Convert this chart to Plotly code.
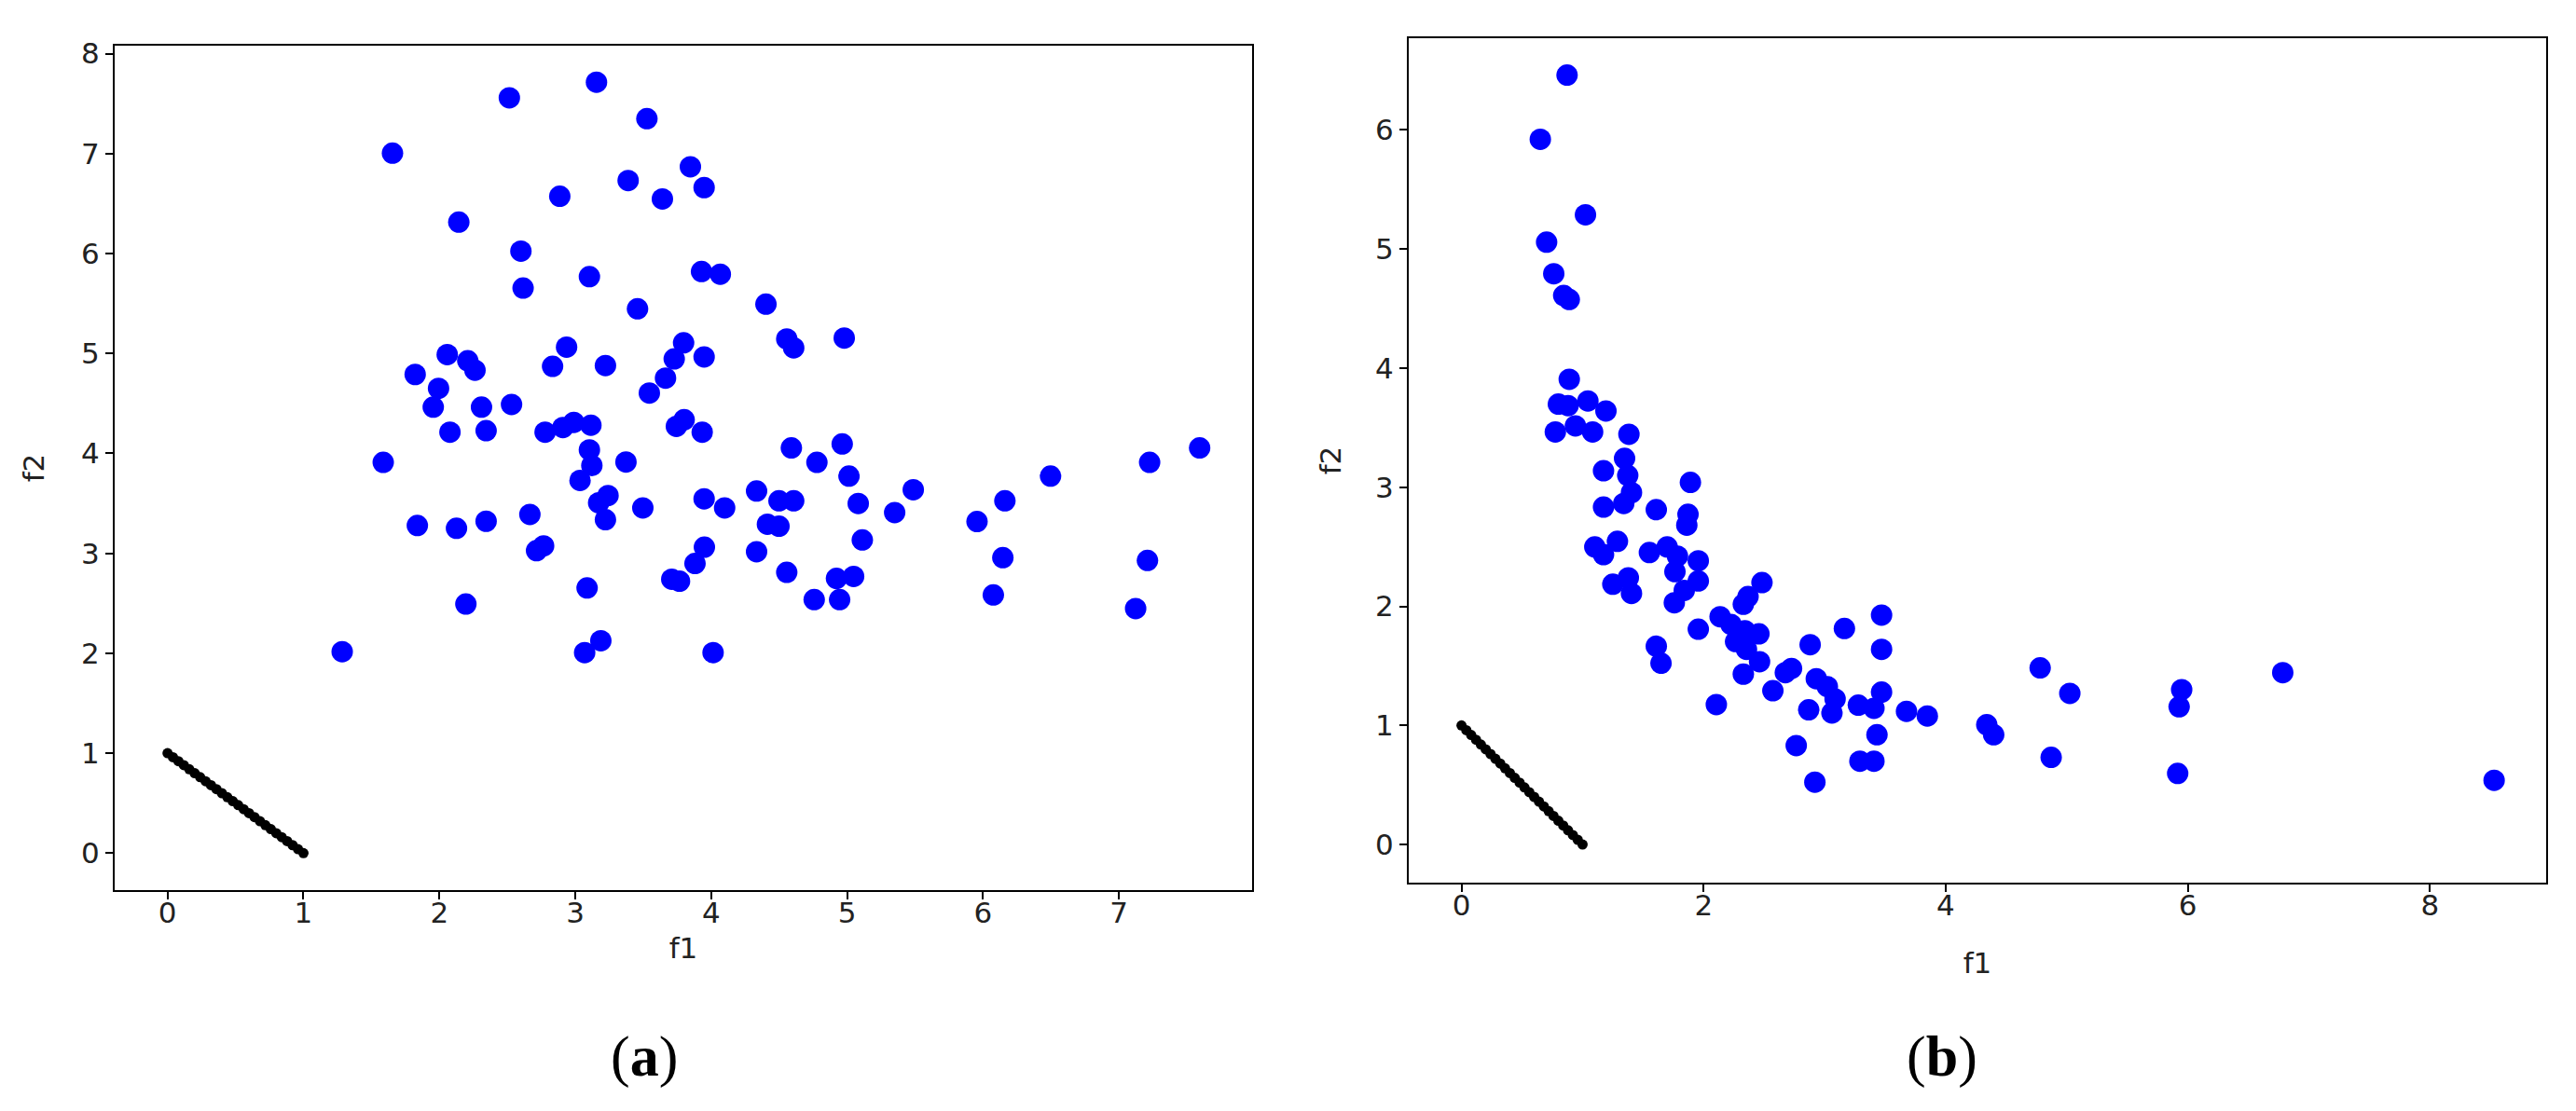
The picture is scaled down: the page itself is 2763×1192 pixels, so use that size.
import plotly.graph_objects as go

# panel (a): random initial population
a_f1 = [3.156, 2.515, 3.527, 1.655, 3.847, 3.389, 3.948, 3.641, 2.886, 2.143,
        2.600, 2.616, 3.104, 3.929, 4.067, 3.458, 4.403, 2.058, 2.209, 2.262,
        1.822, 1.994, 1.955, 2.310, 2.531, 2.078, 2.344, 2.936, 2.833, 3.222,
        3.797, 3.728, 3.664, 3.545, 3.948, 2.778, 2.909, 2.989, 3.115, 3.744,
        3.801, 3.934, 1.587, 3.104, 3.122, 3.035, 3.373, 3.241, 3.172, 3.222,
        3.497, 3.948, 4.099, 4.334, 4.414, 4.499, 4.334, 1.838, 2.126, 2.344,
        2.666, 2.715, 2.767, 3.950, 3.881, 3.710, 3.767, 3.087, 2.195, 1.285,
        3.069, 3.188, 4.014,
        4.556, 4.607, 4.979, 4.590, 4.964, 4.778, 5.014, 5.487, 6.497, 7.226,
        7.594, 4.499, 4.607, 5.082, 5.350, 6.161, 5.956, 5.112, 4.556, 4.922,
        5.048, 4.758, 4.945, 6.146, 6.076, 7.210, 7.123]
a_f2 = [7.715, 7.558, 7.350, 7.005, 6.868, 6.731, 6.660, 6.546, 6.573, 6.314,
        6.024, 5.655, 5.769, 5.820, 5.793, 5.447, 5.494, 4.989, 4.927, 4.833,
        4.790, 4.651, 4.463, 4.463, 4.490, 4.212, 4.227, 5.063, 4.871, 4.879,
        5.106, 4.946, 4.753, 4.604, 4.966, 4.212, 4.259, 4.310, 4.282, 4.271,
        4.337, 4.212, 3.910, 4.035, 3.879, 3.730, 3.914, 3.578, 3.506, 3.337,
        3.455, 3.545, 3.455, 3.623, 3.291, 3.271, 3.016, 3.279, 3.251, 3.321,
        3.389, 3.027, 3.074, 3.062, 2.898, 2.741, 2.721, 2.654, 2.493, 2.016,
        2.007, 2.125, 2.007,
        5.145, 5.056, 5.154, 4.055, 4.094, 3.910, 3.773, 3.636, 3.773, 3.910,
        4.055, 3.526, 3.526, 3.499, 3.408, 3.526, 3.318, 3.134, 2.810, 2.749,
        2.769, 2.537, 2.537, 2.957, 2.584, 2.929, 2.447]

# panel (b): evolved population
b_f1 = [0.872, 0.651, 1.024, 0.703, 0.762, 0.844, 0.890, 0.890, 0.800, 0.880,
        1.044, 1.193, 0.775, 0.941, 1.083, 1.383,
        1.347, 1.173, 1.373, 1.404, 1.340, 1.173, 1.891, 1.609, 1.871, 1.861,
        1.101, 1.288, 1.173, 1.552, 1.699, 1.784, 1.956, 1.763, 1.956, 1.250,
        1.378, 1.404, 1.840, 1.758, 2.482, 2.367, 2.328, 2.136, 1.956, 2.226,
        2.341, 2.457, 2.264, 2.354, 2.462, 2.328, 1.609, 1.648, 2.105, 2.572,
        2.726, 2.675, 2.880, 3.163, 3.470, 3.470, 2.931, 3.022, 3.086, 2.868,
        3.060, 3.278, 3.407, 3.470, 3.432, 2.765, 3.291, 3.407, 2.919,
        3.676, 3.848, 4.780, 5.025, 4.339, 4.396, 4.871, 5.949, 5.928, 5.916,
        6.784, 8.530]
b_f2 = [6.460, 5.921, 5.288, 5.058, 4.793, 4.610, 4.576, 3.906, 3.698, 3.685,
        3.724, 3.640, 3.464, 3.515, 3.464, 3.445,
        3.242, 3.138, 3.099, 2.955, 2.864, 2.833, 3.041, 2.812, 2.773, 2.682,
        2.499, 2.546, 2.434, 2.452, 2.499, 2.421, 2.382, 2.291, 2.213, 2.186,
        2.239, 2.108, 2.134, 2.030, 2.199, 2.082, 2.017, 1.913, 1.808, 1.848,
        1.795, 1.769, 1.704, 1.639, 1.535, 1.431, 1.665, 1.522, 1.175, 1.292,
        1.478, 1.443, 1.678, 1.814, 1.926, 1.639, 1.392, 1.326, 1.222, 1.131,
        1.105, 1.170, 1.144, 1.280, 0.922, 0.831, 0.700, 0.700, 0.524,
        1.118, 1.079, 1.483, 1.269, 1.006, 0.922, 0.732, 1.300, 1.157, 0.597,
        1.443, 0.539]

# true Pareto front f1 + f2 = 1
pf_f1 = [0.0, 0.04, 0.08, 0.12, 0.16, 0.2, 0.24, 0.28, 0.32, 0.36, 0.4,
         0.44, 0.48, 0.52, 0.56, 0.6, 0.64, 0.68, 0.72, 0.76, 0.8,
         0.84, 0.88, 0.92, 0.96, 1.0]
pf_f2 = [1.0, 0.96, 0.92, 0.88, 0.84, 0.8, 0.76, 0.72, 0.68, 0.64, 0.6,
         0.56, 0.52, 0.48, 0.44, 0.4, 0.36, 0.32, 0.28, 0.24, 0.2,
         0.16, 0.12, 0.08, 0.04, 0.0]

W, H = 2763, 1192
OFF = 8  # page body margin
FONT = "DejaVu Sans"


def px_x(p):
    return (p - OFF) / W


def px_y(p):
    return (H - (p - OFF)) / H


fig = go.Figure()

for f1, f2, xa, ya in [(a_f1, a_f2, "x", "y"), (b_f1, b_f2, "x2", "y2")]:
    fig.add_trace(go.Scatter(
        x=f1, y=f2, mode="markers", xaxis=xa, yaxis=ya,
        marker=dict(color="#0000ff", size=23, line=dict(width=0)),
        showlegend=False,
    ))
    fig.add_trace(go.Scatter(
        x=pf_f1, y=pf_f2, mode="markers", xaxis=xa, yaxis=ya,
        marker=dict(color="#000000", size=11, line=dict(width=0)),
        showlegend=False,
    ))

axis_style = dict(
    showgrid=False, zeroline=False, showline=True, linecolor="black",
    linewidth=2, mirror=True, ticks="outside", ticklen=8, tickwidth=2,
    tickcolor="black", tickfont=dict(family=FONT, size=31, color="#222"),
    title_font=dict(family=FONT, size=31, color="#222"), automargin=False,
)

fig.update_layout(
    width=W, height=H, autosize=False,
    paper_bgcolor="white", plot_bgcolor="white",
    margin=dict(l=0, r=0, t=0, b=0, pad=0),
    xaxis=dict(domain=[px_x(123), px_x(1343)], range=[-0.389, 7.98],
               tickvals=[0, 1, 2, 3, 4, 5, 6, 7], ticklabelstandoff=-12,
               title=dict(text="f1", standoff=10), anchor="y", **axis_style),
    yaxis=dict(domain=[px_y(955), px_y(49)], range=[-0.37, 8.08],
               tickvals=[0, 1, 2, 3, 4, 5, 6, 7, 8],
               title=dict(text="f2", standoff=30), anchor="x", **axis_style),
    xaxis2=dict(domain=[px_x(1511), px_x(2731)], range=[-0.436, 8.96],
                tickvals=[0, 2, 4, 6, 8], ticklabelstandoff=-12,
                title=dict(text="f1", standoff=34), anchor="y2", **axis_style),
    yaxis2=dict(domain=[px_y(947), px_y(41)], range=[-0.32, 6.77],
                tickvals=[0, 1, 2, 3, 4, 5, 6],
                title=dict(text="f2", standoff=27), anchor="x2", **axis_style),
)

for label, xc in [("a", 691), ("b", 2083)]:
    fig.add_annotation(
        text=f"(<b>{label}</b>)", xref="paper", yref="paper",
        x=px_x(xc), y=px_y(1133), xanchor="center", yanchor="middle",
        showarrow=False,
        font=dict(family="Liberation Serif", size=62, color="black"),
    )

fig.write_html("out.html")
